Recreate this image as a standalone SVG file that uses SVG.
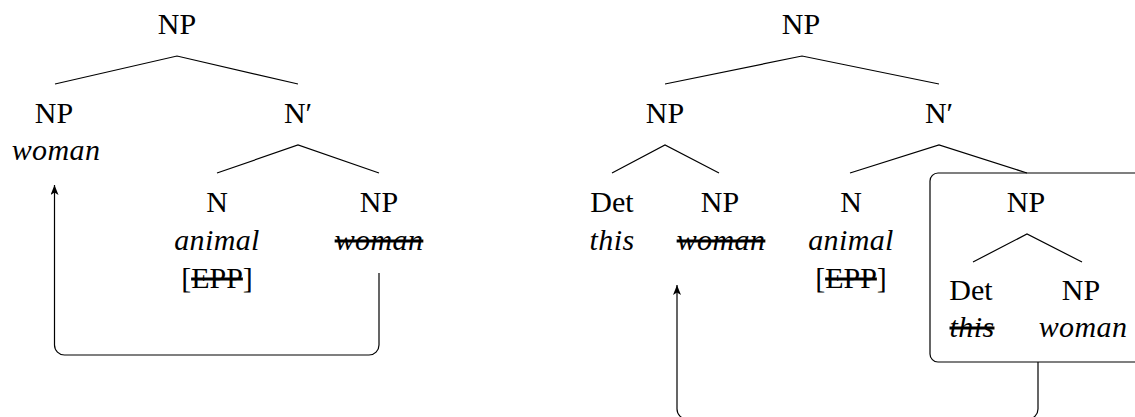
<svg xmlns="http://www.w3.org/2000/svg" width="1135" height="417" viewBox="0 0 1135 417">
<style>
text{font-family:"Liberation Serif","Times New Roman",serif;font-size:30px;fill:#000;text-anchor:middle}
.i{font-style:italic;letter-spacing:0.4px}
.s{text-decoration:line-through}
.e{stroke:#000;stroke-width:1.2;fill:none}
.box{stroke:#000;stroke-width:1.2;fill:none}
</style>
<defs>
<marker id="ah" markerUnits="userSpaceOnUse" viewBox="0 0 10 8" refX="10" refY="4" markerWidth="10" markerHeight="8" orient="auto">
<path d="M0,0 L10,4 L0,8 L2.5,4 Z" fill="#000"/>
</marker>
</defs>
<rect width="1135" height="417" fill="#fff"/>

<g id="connectors">
<g id="edges-left">
<path class="e" d="M55,84 L177,56 L298,84"/>
<path class="e" d="M217,173 L298,145 L379,173"/>
</g>
<g id="edges-right">
<path class="e" d="M665,84 L802,56 L939,84"/>
<path class="e" d="M612,173 L665,145 L719,173"/>
<path class="e" d="M850,173 L939,145 L1027,173"/>
<path class="e" d="M973,262 L1027,234 L1082,262"/>
</g>
<path id="move-left" class="e" marker-end="url(#ah)" d="M379,273 V345 A10,10 0 0 1 369,355 H64.5 A10,10 0 0 1 54.5,345 V185"/>
<path id="move-right" class="e" marker-end="url(#ah)" d="M1038,362 V409 A10,10 0 0 1 1028,419 H687 A10,10 0 0 1 677,409 V285"/>
</g>

<g id="left-tree">
<g id="L-NP-root"><text x="177" y="34">NP</text></g>
<g id="L-NP-spec"><text x="54" y="123">NP</text><text class="i" x="56" y="160">woman</text></g>
<g id="L-Nbar"><text x="298" y="123">N′</text></g>
<g id="L-N"><text x="217" y="212">N</text><text class="i" x="217" y="250">animal</text><text x="217" y="288">[<tspan class="s">EPP</tspan>]</text></g>
<g id="L-NP-comp"><text x="379" y="212">NP</text><text class="i s" x="379" y="250">woman</text></g>
</g>

<g id="right-tree">
<g id="R-NP-root"><text x="801" y="34">NP</text></g>
<g id="R-NP-spec"><text x="665" y="123">NP</text></g>
<g id="R-Det"><text x="612" y="212">Det</text><text class="i" x="612" y="250">this</text></g>
<g id="R-NP-lower"><text x="720" y="212">NP</text><text class="i s" x="721" y="250">woman</text></g>
<g id="R-Nbar"><text x="939" y="123">N′</text></g>
<g id="R-N"><text x="851" y="212">N</text><text class="i" x="851" y="250">animal</text><text x="851" y="288">[<tspan class="s">EPP</tspan>]</text></g>
<g id="R-NP-boxed">
<rect class="box" x="930" y="173" width="215" height="189" rx="8"/>
<text x="1026" y="212">NP</text>
</g>
<g id="R-Det-inner"><text x="971" y="300">Det</text><text class="i s" x="972" y="337">this</text></g>
<g id="R-NP-inner"><text x="1081" y="300">NP</text><text class="i" x="1083" y="337">woman</text></g>
</g>
</svg>
